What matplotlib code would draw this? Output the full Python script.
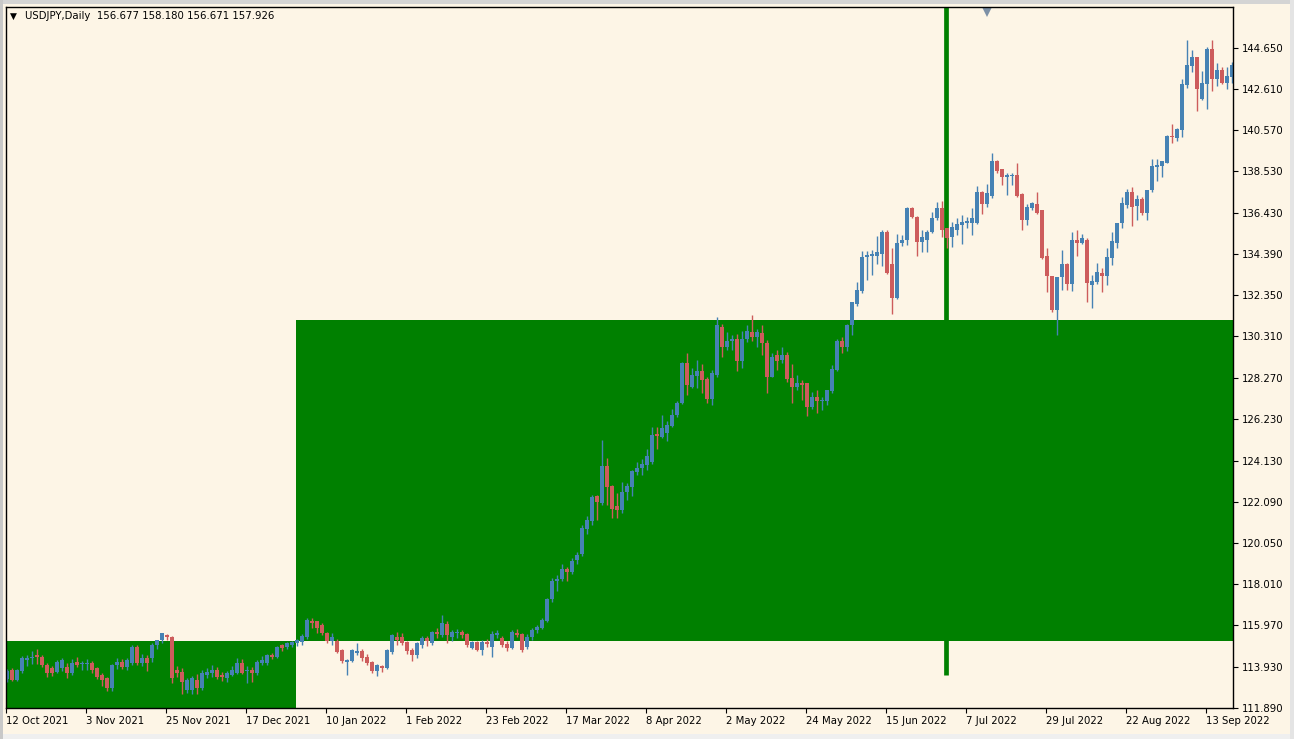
#!/usr/bin/env python3

import matplotlib
matplotlib.use('Agg')
import matplotlib.pyplot as plt
from matplotlib.patches import Rectangle
import numpy as np

# Terminal-like colours
COLOR_BG = '#FDF5E6'
COLOR_UP = '#4682B4'
COLOR_DOWN = '#CD5C5C'
COLOR_ZONE = '#008000'
FONT_SIZE = 7.3

# Daily USDJPY bars, 12 Oct 2021 .. 20 Sep 2022
opens = [
    113.30, 113.75, 113.26, 113.70, 114.28, 114.34, 114.50, 114.42, 114.01, 113.84,
    113.68, 113.84, 113.92, 113.59, 114.17, 114.05, 114.05, 114.09, 113.84, 113.51,
    113.35, 112.85, 114.01, 114.17, 113.92, 114.09, 114.92, 114.09, 114.34, 114.34,
    115.00, 115.25, 115.50, 115.41, 113.76, 113.68, 112.77, 112.77, 113.26, 112.85,
    113.51, 113.59, 113.76, 113.51, 113.35, 113.51, 113.59, 114.09, 113.72, 113.76,
    113.59, 114.09, 114.09, 114.50, 114.42, 115.00, 114.92, 115.00, 115.08, 115.15,
    115.40, 116.20, 116.20, 116.00, 115.60, 115.20, 115.20, 114.75, 114.15, 114.20,
    114.60, 114.70, 114.40, 114.15, 113.70, 113.95, 113.85, 114.65, 115.40, 115.40,
    115.15, 114.75, 114.50, 115.00, 115.35, 115.10, 115.65, 115.50, 116.05, 115.40,
    115.60, 115.65, 115.55, 114.85, 115.15, 114.75, 115.15, 114.90, 115.50, 115.35,
    115.05, 114.85, 115.60, 115.55, 114.90, 115.40, 115.75, 115.85, 116.20, 117.30,
    118.20, 118.30, 118.75, 118.60, 119.20, 119.50, 120.75, 121.15, 122.40, 122.05,
    123.90, 122.90, 121.90, 121.70, 122.60, 122.85, 123.60, 123.80, 123.95, 124.10,
    125.45, 125.30, 125.50, 125.85, 126.40, 127.00, 129.00, 127.80, 128.35, 128.60,
    128.20, 127.20, 128.40, 130.80, 129.80, 130.10, 130.20, 129.10, 130.20, 130.55,
    130.30, 130.50, 130.00, 128.30, 129.40, 129.15, 129.40, 128.25, 127.80, 128.00,
    128.00, 126.80, 127.30, 127.12, 127.10, 127.60, 128.65, 130.10, 129.80, 130.90,
    131.90, 132.55, 134.25, 134.30, 134.30, 134.40, 135.50, 133.90, 132.20, 134.97,
    135.10, 136.70, 136.26, 135.00, 135.10, 135.50, 136.20, 136.70, 135.68, 135.23,
    135.60, 135.85, 135.93, 135.96, 135.96, 137.50, 136.90, 137.30, 139.00, 138.60,
    138.20, 138.25, 138.30, 137.40, 136.10, 136.70, 136.90, 136.60, 134.30, 133.30,
    131.60, 133.25, 133.90, 132.90, 135.10, 134.97, 135.10, 132.87, 133.00, 133.45,
    133.30, 134.20, 134.97, 135.93, 136.84, 137.50, 136.79, 137.14, 136.46, 137.58,
    138.71, 138.77, 138.94, 140.23, 140.15, 140.56, 142.80, 143.74, 144.17, 142.10,
    142.84, 144.60, 143.09, 143.54, 142.88, 143.17,
]
highs = [
    113.80, 113.85, 113.80, 114.45, 114.50, 114.70, 114.78, 114.50, 114.10, 113.95,
    114.25, 114.35, 114.10, 114.30, 114.40, 114.20, 114.30, 114.20, 113.90, 113.60,
    113.40, 114.05, 114.35, 114.30, 114.35, 115.00, 114.98, 114.55, 114.50, 115.10,
    115.25, 115.60, 115.55, 115.45, 113.95, 113.85, 113.35, 113.45, 113.55, 113.75,
    113.85, 114.00, 113.90, 113.65, 113.70, 113.95, 114.35, 114.30, 113.95, 113.90,
    114.25, 114.45, 114.55, 114.60, 114.95, 115.05, 115.15, 115.20, 115.30, 115.55,
    116.35, 116.35, 116.20, 116.10, 115.65, 115.60, 115.30, 114.80, 114.30, 114.80,
    115.10, 114.80, 114.55, 114.20, 114.05, 114.00, 114.80, 115.55, 115.65, 115.60,
    115.20, 114.85, 115.15, 115.45, 115.45, 115.70, 115.85, 116.50, 116.20, 115.75,
    115.80, 115.75, 115.60, 115.20, 115.20, 115.25, 115.30, 115.70, 115.75, 115.45,
    115.20, 115.75, 115.80, 115.60, 115.55, 115.85, 116.00, 116.35, 117.35, 118.35,
    118.45, 119.00, 118.85, 119.30, 119.60, 120.95, 121.40, 122.45, 122.45, 125.15,
    124.30, 122.95, 122.55, 123.10, 123.05, 123.70, 124.10, 124.25, 124.75, 125.80,
    125.80, 126.40, 126.10, 126.70, 127.10, 129.05, 129.50, 128.75, 129.15, 128.95,
    128.30, 128.65, 131.30, 130.95, 130.55, 130.40, 130.45, 130.60, 130.90, 131.40,
    130.70, 130.90, 130.15, 129.50, 129.65, 129.80, 129.55, 128.95, 128.40, 128.15,
    128.00, 127.55, 127.65, 127.30, 127.65, 128.90, 130.20, 130.30, 130.95, 132.00,
    133.00, 134.55, 134.55, 134.60, 135.30, 135.60, 135.60, 134.70, 135.40, 135.35,
    136.75, 136.75, 136.30, 135.60, 135.60, 136.50, 137.00, 137.05, 135.70, 136.00,
    136.20, 136.35, 136.26, 136.70, 137.80, 137.55, 137.90, 139.40, 139.05, 138.60,
    138.40, 138.40, 138.90, 137.45, 136.90, 137.00, 137.50, 136.60, 134.70, 133.30,
    133.25, 134.60, 133.95, 135.50, 135.60, 135.40, 135.20, 133.35, 133.95, 133.70,
    134.70, 135.50, 135.96, 137.25, 137.65, 137.75, 137.35, 137.25, 137.60, 139.10,
    139.10, 139.00, 140.30, 140.85, 140.65, 143.10, 145.00, 144.55, 144.17, 143.50,
    144.67, 145.00, 143.87, 143.70, 143.70, 143.95,
]
lows = [
    113.15, 113.20, 113.20, 113.62, 113.95, 114.05, 114.05, 113.90, 113.40, 113.45,
    113.60, 113.70, 113.35, 113.50, 113.90, 113.75, 113.75, 113.60, 113.30, 112.95,
    112.72, 112.72, 113.80, 113.80, 113.75, 114.00, 114.00, 113.95, 113.70, 114.15,
    114.80, 115.10, 115.25, 113.10, 113.40, 112.55, 112.60, 112.55, 112.55, 112.75,
    113.35, 113.40, 113.30, 113.20, 113.15, 113.45, 113.55, 113.55, 113.10, 113.15,
    113.50, 114.00, 114.00, 114.30, 114.35, 114.70, 114.80, 114.90, 114.95, 115.00,
    115.30, 115.85, 115.60, 115.50, 115.10, 115.00, 114.60, 114.10, 113.50, 114.15,
    114.50, 114.20, 114.00, 113.60, 113.45, 113.65, 113.80, 114.55, 115.00, 115.00,
    114.55, 114.20, 114.35, 114.85, 114.95, 115.00, 115.35, 115.40, 115.10, 115.20,
    115.35, 115.35, 114.90, 114.80, 114.70, 114.50, 114.90, 114.40, 115.35, 114.90,
    114.70, 114.80, 115.40, 114.65, 114.80, 115.25, 115.60, 115.80, 116.15, 117.15,
    117.70, 118.20, 118.20, 118.50, 119.00, 119.40, 120.50, 120.95, 121.20, 121.95,
    121.95, 121.30, 121.30, 121.55, 122.20, 122.40, 123.45, 123.45, 123.70, 124.00,
    124.75, 125.25, 125.10, 125.80, 126.30, 126.95, 127.40, 127.75, 127.75, 127.50,
    127.00, 126.90, 128.30, 129.30, 129.65, 129.65, 128.60, 128.75, 130.05, 130.10,
    129.80, 129.40, 127.50, 128.30, 128.65, 129.00, 128.05, 127.00, 127.65, 127.15,
    126.35, 126.70, 126.50, 126.66, 126.90, 127.50, 128.60, 129.50, 129.60, 130.40,
    131.80, 132.45, 133.10, 133.35, 133.90, 133.80, 133.40, 131.45, 132.15, 134.80,
    134.85, 136.20, 134.30, 134.50, 134.50, 135.45, 136.10, 135.25, 134.70, 134.75,
    135.35, 134.90, 135.70, 135.35, 135.90, 136.40, 136.75, 137.20, 138.40, 137.83,
    137.35, 137.83, 137.25, 135.60, 135.85, 136.60, 136.40, 134.15, 132.50, 131.55,
    130.40, 132.60, 132.60, 132.55, 134.30, 134.90, 132.00, 131.70, 132.90, 132.50,
    132.85, 133.85, 134.70, 135.70, 136.68, 135.80, 136.10, 136.35, 136.10, 137.50,
    138.05, 138.20, 138.90, 139.90, 140.00, 140.20, 142.65, 143.45, 141.50, 142.05,
    141.60, 142.50, 142.75, 142.85, 142.60, 142.88,
]
closes = [
    113.70, 113.26, 113.76, 114.34, 114.36, 114.42, 114.40, 114.01, 113.59, 113.59,
    114.17, 114.26, 113.59, 114.09, 114.01, 114.10, 114.12, 113.76, 113.43, 113.26,
    112.85, 114.01, 114.17, 113.92, 114.26, 114.92, 114.09, 114.34, 114.09, 115.00,
    115.25, 115.58, 115.41, 113.35, 113.59, 113.18, 113.26, 113.35, 112.85, 113.59,
    113.68, 113.76, 113.43, 113.40, 113.59, 113.76, 114.09, 113.59, 113.76, 113.59,
    114.17, 114.26, 114.50, 114.42, 114.92, 114.83, 115.08, 115.17, 115.25, 115.45,
    116.24, 116.10, 115.85, 115.60, 115.20, 115.40, 114.65, 114.20, 114.25, 114.75,
    114.70, 114.35, 114.10, 113.70, 114.00, 113.85, 114.75, 115.50, 115.25, 115.10,
    114.70, 114.50, 115.10, 115.35, 115.20, 115.65, 115.55, 116.10, 115.50, 115.65,
    115.65, 115.50, 115.00, 115.15, 114.75, 115.15, 115.05, 115.55, 115.60, 115.00,
    114.85, 115.65, 115.50, 114.75, 115.40, 115.75, 115.90, 116.25, 117.30, 118.20,
    118.30, 118.75, 118.60, 119.15, 119.45, 120.80, 121.20, 122.35, 122.10, 123.90,
    122.85, 121.75, 121.70, 122.60, 122.90, 123.65, 123.80, 124.00, 124.40, 125.40,
    125.35, 125.75, 125.90, 126.40, 127.00, 129.00, 127.90, 128.40, 128.60, 128.15,
    127.20, 128.50, 130.90, 129.80, 130.10, 130.20, 129.10, 130.20, 130.60, 130.30,
    130.55, 130.00, 128.30, 129.30, 129.10, 129.40, 128.20, 127.80, 128.00, 127.90,
    126.80, 127.30, 127.10, 127.18, 127.65, 128.70, 130.10, 129.80, 130.90, 132.00,
    132.60, 134.25, 134.35, 134.40, 134.50, 135.50, 133.45, 132.20, 134.97, 135.10,
    136.70, 136.26, 135.00, 135.23, 135.50, 136.20, 136.70, 135.60, 135.20, 135.73,
    135.90, 136.00, 136.06, 136.20, 137.50, 136.90, 137.45, 139.00, 138.50, 138.20,
    138.30, 138.30, 137.30, 136.10, 136.76, 136.95, 136.46, 134.20, 133.30, 131.60,
    133.25, 133.90, 132.90, 135.10, 134.97, 135.20, 132.95, 133.07, 133.50, 133.30,
    134.25, 135.07, 135.96, 136.95, 137.50, 136.76, 137.14, 136.46, 137.58, 138.77,
    138.82, 139.00, 140.26, 140.20, 140.60, 142.84, 143.79, 144.17, 142.60, 142.90,
    144.60, 143.09, 143.54, 142.90, 143.24, 143.79,
]

date_labels = ['12 Oct 2021', '3 Nov 2021', '25 Nov 2021', '17 Dec 2021', '10 Jan 2022',
               '1 Feb 2022', '23 Feb 2022', '17 Mar 2022', '8 Apr 2022', '2 May 2022',
               '24 May 2022', '15 Jun 2022', '7 Jul 2022', '29 Jul 2022', '22 Aug 2022',
               '13 Sep 2022']
price_ticks = [111.890, 113.930, 115.970, 118.010, 120.050, 122.090, 124.130, 126.230,
               128.270, 130.310, 132.350, 134.390, 136.430, 138.530, 140.570, 142.610,
               144.650]

# Zone objects drawn on the chart
zone_low = 115.2
zone_high = 131.13
zone_split_bar = 57.8
vline_bar = 187.7
vline_low = 113.5
shift_bar = 196

header = 'USDJPY,Daily  156.677 158.180 156.671 157.926'

plt.rcParams['font.family'] = 'DejaVu Sans'

W, H = 1294, 739
fig = plt.figure(figsize=(W / 100, H / 100), dpi=100, facecolor=COLOR_BG)
ax = fig.add_axes([6 / W, 31 / H, 1227 / W, 701 / H])
ax.set_facecolor(COLOR_BG)

n = len(closes)
x = np.arange(n)
o = np.array(opens)
h = np.array(highs)
l = np.array(lows)
c = np.array(closes)

x_min, x_max = -0.2, 245.2
y_min, y_max = 111.875, 146.66
ax.set_xlim(x_min, x_max)
ax.set_ylim(y_min, y_max)

# Background zones
ax.add_patch(Rectangle((x_min - 1, y_min - 5), zone_split_bar - x_min + 1, zone_low - y_min + 5,
                       facecolor=COLOR_ZONE, edgecolor='none', zorder=1))
ax.add_patch(Rectangle((zone_split_bar, zone_low), x_max - zone_split_bar + 5, zone_high - zone_low,
                       facecolor=COLOR_ZONE, edgecolor='none', zorder=1))
ax.plot([vline_bar, vline_bar], [vline_low, y_max + 5], color=COLOR_ZONE, linewidth=3.4,
        solid_capstyle='butt', zorder=1)

# Candles
up = c >= o
colors = np.where(up, COLOR_UP, COLOR_DOWN)
ax.vlines(x, l, h, colors=colors, linewidth=1.0, zorder=3)
body_low = np.minimum(o, c)
body_h = np.maximum(np.abs(c - o), 0.05)
ax.bar(x, body_h, bottom=body_low, width=0.62, color=colors, linewidth=0, zorder=4)

# Shift marker hanging from the top edge
ax.plot([shift_bar], [y_max - 0.2], marker='v', markersize=9, color='#7D90A6',
        markeredgewidth=0, clip_on=True, zorder=5)

# Axes styling
for side in ['top', 'left', 'right', 'bottom']:
    ax.spines[side].set_color('black')
    ax.spines[side].set_linewidth(1.0)
    ax.spines[side].set_zorder(6)

ax.yaxis.tick_right()
ax.set_yticks(price_ticks)
ax.set_yticklabels([f'{p:.3f}' for p in price_ticks], fontsize=FONT_SIZE)
ax.tick_params(axis='y', direction='out', length=3.5, width=0.8, pad=3, colors='black')

tick_pos = np.arange(len(date_labels)) * 16 - 0.2
ax.set_xticks(tick_pos)
ax.set_xticklabels(date_labels, fontsize=FONT_SIZE, ha='left')
ax.tick_params(axis='x', direction='out', length=3.5, width=0.8, pad=2.5, colors='black')

# Header line
fig.text(10 / W, 1 - 16 / H, '\u25bc', fontsize=6.5, va='center', ha='left', color='black')
fig.text(25 / W, 1 - 16 / H, header, fontsize=FONT_SIZE, va='center', ha='left', color='black')

# Window frame
fig.patches.append(Rectangle((0, 1 - 4 / H), 1, 4 / H, transform=fig.transFigure,
                             facecolor='#D4D4D4', edgecolor='none', zorder=0))
fig.patches.append(Rectangle((0, 0), 1, 5 / H, transform=fig.transFigure,
                             facecolor='#EFEFEF', edgecolor='none', zorder=0))
fig.patches.append(Rectangle((0, 0), 3 / W, 1, transform=fig.transFigure,
                             facecolor='#C8C8C8', edgecolor='none', zorder=0))
fig.patches.append(Rectangle((1 - 4 / W, 0), 4 / W, 1, transform=fig.transFigure,
                             facecolor='#E4E4E4', edgecolor='none', zorder=0))

plt.savefig('out.png', dpi=100, facecolor=COLOR_BG)
plt.close()
